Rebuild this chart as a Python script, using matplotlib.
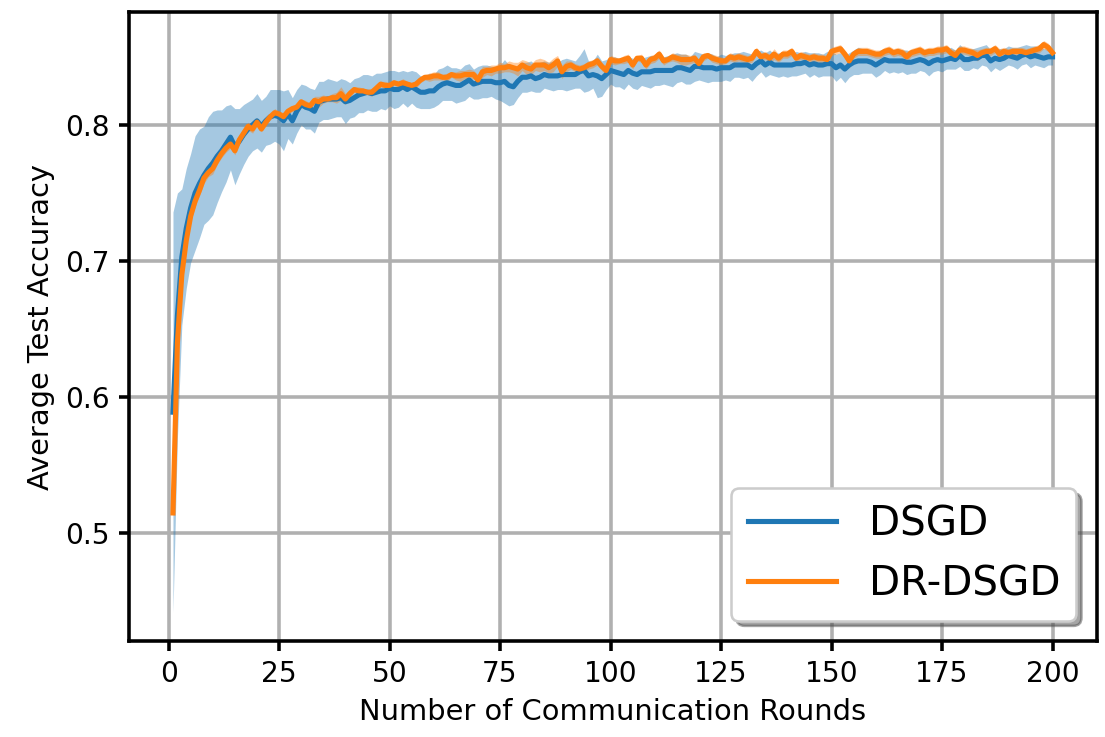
import numpy as np
import matplotlib
matplotlib.use("Agg")
import matplotlib.pyplot as plt

# communication rounds 1..200
rounds = np.arange(1, 201)

# DSGD average test accuracy (mean over workers) and its spread
dsgd_mean = [
    0.589, 0.660, 0.703, 0.724, 0.739, 0.750, 0.757, 0.763, 0.768, 0.772,
    0.777, 0.781, 0.786, 0.791, 0.784, 0.788, 0.793, 0.797, 0.800, 0.803,
    0.799, 0.803, 0.806, 0.807, 0.806, 0.803, 0.808, 0.803, 0.810, 0.815,
    0.813, 0.812, 0.810, 0.817, 0.818, 0.819, 0.819, 0.819, 0.820, 0.817,
    0.818, 0.820, 0.822, 0.823, 0.824, 0.823, 0.824, 0.825, 0.825, 0.827,
    0.826, 0.826, 0.828, 0.826, 0.828, 0.826, 0.824, 0.824, 0.825, 0.825,
    0.828, 0.830, 0.831, 0.830, 0.829, 0.829, 0.831, 0.833, 0.830, 0.831,
    0.832, 0.832, 0.832, 0.831, 0.831, 0.832, 0.829, 0.828, 0.832, 0.835,
    0.835, 0.836, 0.834, 0.835, 0.837, 0.836, 0.836, 0.836, 0.837, 0.837,
    0.837, 0.837, 0.839, 0.840, 0.836, 0.837, 0.836, 0.834, 0.837, 0.840,
    0.839, 0.838, 0.837, 0.840, 0.838, 0.837, 0.839, 0.839, 0.839, 0.840,
    0.840, 0.840, 0.840, 0.840, 0.842, 0.842, 0.841, 0.840, 0.843, 0.843,
    0.842, 0.842, 0.842, 0.841, 0.842, 0.842, 0.842, 0.844, 0.844, 0.844,
    0.844, 0.842, 0.845, 0.847, 0.844, 0.846, 0.844, 0.844, 0.844, 0.844,
    0.844, 0.845, 0.845, 0.846, 0.844, 0.845, 0.844, 0.844, 0.845, 0.845,
    0.842, 0.844, 0.841, 0.844, 0.846, 0.847, 0.847, 0.847, 0.846, 0.844,
    0.846, 0.848, 0.847, 0.847, 0.847, 0.847, 0.846, 0.846, 0.847, 0.848,
    0.847, 0.845, 0.847, 0.848, 0.847, 0.848, 0.849, 0.848, 0.851, 0.848,
    0.848, 0.849, 0.849, 0.851, 0.851, 0.847, 0.849, 0.848, 0.849, 0.851,
    0.850, 0.849, 0.851, 0.852, 0.850, 0.851, 0.850, 0.849, 0.850, 0.850,
]
dsgd_std = [
    0.147, 0.090, 0.050, 0.044, 0.040, 0.042, 0.040, 0.036, 0.038, 0.038,
    0.034, 0.030, 0.028, 0.024, 0.028, 0.024, 0.022, 0.020, 0.019, 0.020,
    0.019, 0.018, 0.020, 0.019, 0.020, 0.022, 0.018, 0.017, 0.016, 0.015,
    0.016, 0.015, 0.016, 0.015, 0.014, 0.015, 0.014, 0.013, 0.014, 0.016,
    0.013, 0.014, 0.013, 0.014, 0.013, 0.013, 0.014, 0.013, 0.014, 0.013,
    0.014, 0.013, 0.012, 0.013, 0.012, 0.013, 0.012, 0.012, 0.013, 0.012,
    0.013, 0.012, 0.013, 0.012, 0.013, 0.012, 0.013, 0.012, 0.011, 0.012,
    0.012, 0.012, 0.011, 0.012, 0.013, 0.016, 0.015, 0.013, 0.012, 0.011,
    0.011, 0.011, 0.010, 0.011, 0.010, 0.010, 0.011, 0.010, 0.011, 0.012,
    0.011, 0.010, 0.012, 0.016, 0.011, 0.010, 0.016, 0.013, 0.011, 0.010,
    0.011, 0.010, 0.011, 0.010, 0.011, 0.011, 0.010, 0.011, 0.012, 0.011,
    0.011, 0.010, 0.011, 0.012, 0.011, 0.010, 0.011, 0.010, 0.011, 0.010,
    0.010, 0.011, 0.010, 0.009, 0.010, 0.009, 0.010, 0.009, 0.009, 0.010,
    0.009, 0.010, 0.009, 0.008, 0.009, 0.009, 0.008, 0.009, 0.008, 0.009,
    0.008, 0.009, 0.008, 0.008, 0.009, 0.008, 0.009, 0.008, 0.009, 0.009,
    0.010, 0.009, 0.010, 0.009, 0.009, 0.010, 0.009, 0.009, 0.008, 0.009,
    0.009, 0.008, 0.009, 0.008, 0.009, 0.008, 0.009, 0.008, 0.009, 0.008,
    0.008, 0.009, 0.008, 0.008, 0.008, 0.007, 0.008, 0.007, 0.008, 0.008,
    0.008, 0.007, 0.008, 0.007, 0.008, 0.008, 0.007, 0.008, 0.007, 0.007,
    0.007, 0.008, 0.007, 0.007, 0.008, 0.007, 0.007, 0.007, 0.006, 0.006,
]

# DR-DSGD
drdsgd_mean = [
    0.515, 0.640, 0.690, 0.715, 0.733, 0.744, 0.752, 0.761, 0.765, 0.768,
    0.774, 0.779, 0.783, 0.786, 0.781, 0.789, 0.794, 0.799, 0.797, 0.802,
    0.797, 0.802, 0.806, 0.809, 0.808, 0.806, 0.810, 0.812, 0.813, 0.817,
    0.815, 0.814, 0.818, 0.817, 0.819, 0.819, 0.820, 0.820, 0.823, 0.819,
    0.823, 0.826, 0.825, 0.825, 0.824, 0.824, 0.827, 0.830, 0.829, 0.829,
    0.831, 0.830, 0.831, 0.830, 0.829, 0.830, 0.833, 0.835, 0.835, 0.836,
    0.836, 0.835, 0.835, 0.837, 0.836, 0.836, 0.837, 0.837, 0.837, 0.833,
    0.839, 0.840, 0.840, 0.841, 0.842, 0.842, 0.843, 0.842, 0.841, 0.844,
    0.842, 0.841, 0.844, 0.844, 0.844, 0.842, 0.844, 0.847, 0.839, 0.843,
    0.844, 0.842, 0.841, 0.842, 0.844, 0.845, 0.847, 0.843, 0.840, 0.848,
    0.847, 0.847, 0.848, 0.849, 0.844, 0.849, 0.849, 0.844, 0.848, 0.849,
    0.852, 0.847, 0.848, 0.850, 0.849, 0.848, 0.848, 0.848, 0.849, 0.845,
    0.850, 0.851, 0.849, 0.848, 0.847, 0.847, 0.850, 0.849, 0.850, 0.849,
    0.848, 0.849, 0.854, 0.850, 0.851, 0.849, 0.852, 0.849, 0.852, 0.852,
    0.854, 0.849, 0.851, 0.850, 0.849, 0.850, 0.849, 0.849, 0.848, 0.854,
    0.855, 0.856, 0.852, 0.847, 0.852, 0.854, 0.854, 0.854, 0.853, 0.852,
    0.852, 0.854, 0.855, 0.853, 0.854, 0.853, 0.850, 0.853, 0.854, 0.855,
    0.853, 0.854, 0.854, 0.855, 0.855, 0.856, 0.853, 0.851, 0.855, 0.855,
    0.854, 0.853, 0.851, 0.853, 0.854, 0.854, 0.856, 0.852, 0.854, 0.853,
    0.854, 0.854, 0.854, 0.853, 0.854, 0.855, 0.856, 0.859, 0.857, 0.853,
]
drdsgd_std = [
    0.004, 0.006, 0.005, 0.005, 0.004, 0.004, 0.004, 0.004, 0.003, 0.004,
    0.003, 0.003, 0.003, 0.003, 0.003, 0.003, 0.003, 0.003, 0.003, 0.003,
    0.002, 0.003, 0.002, 0.003, 0.002, 0.003, 0.002, 0.002, 0.003, 0.002,
    0.003, 0.002, 0.003, 0.004, 0.003, 0.002, 0.003, 0.004, 0.005, 0.004,
    0.003, 0.002, 0.003, 0.002, 0.002, 0.003, 0.002, 0.002, 0.003, 0.002,
    0.002, 0.002, 0.003, 0.002, 0.002, 0.003, 0.002, 0.002, 0.003, 0.003,
    0.003, 0.002, 0.003, 0.002, 0.003, 0.004, 0.003, 0.004, 0.003, 0.004,
    0.004, 0.003, 0.004, 0.003, 0.004, 0.003, 0.004, 0.004, 0.005, 0.004,
    0.005, 0.004, 0.004, 0.005, 0.004, 0.004, 0.005, 0.004, 0.005, 0.004,
    0.003, 0.003, 0.003, 0.003, 0.003, 0.003, 0.003, 0.003, 0.003, 0.003,
    0.003, 0.002, 0.003, 0.003, 0.003, 0.002, 0.003, 0.003, 0.003, 0.003,
    0.003, 0.003, 0.002, 0.003, 0.003, 0.004, 0.004, 0.003, 0.003, 0.003,
    0.003, 0.002, 0.003, 0.003, 0.003, 0.002, 0.003, 0.003, 0.003, 0.003,
    0.003, 0.003, 0.003, 0.003, 0.003, 0.003, 0.004, 0.003, 0.003, 0.003,
    0.003, 0.003, 0.003, 0.003, 0.003, 0.003, 0.003, 0.003, 0.003, 0.003,
    0.003, 0.003, 0.003, 0.004, 0.003, 0.003, 0.003, 0.003, 0.003, 0.003,
    0.003, 0.003, 0.003, 0.003, 0.003, 0.003, 0.004, 0.003, 0.003, 0.003,
    0.003, 0.003, 0.003, 0.003, 0.003, 0.003, 0.003, 0.004, 0.003, 0.003,
    0.003, 0.003, 0.004, 0.003, 0.003, 0.003, 0.003, 0.004, 0.003, 0.003,
    0.003, 0.003, 0.003, 0.003, 0.003, 0.003, 0.003, 0.003, 0.003, 0.003,
]

dsgd_mean = np.array(dsgd_mean)
dsgd_std = np.array(dsgd_std)
drdsgd_mean = np.array(drdsgd_mean)
drdsgd_std = np.array(drdsgd_std)

plt.rcParams.update({
    'axes.linewidth': 1.4,
    'xtick.major.width': 1.4,
    'ytick.major.width': 1.4,
    'xtick.major.size': 4.0,
    'ytick.major.size': 4.0,
    'xtick.labelsize': 11,
    'ytick.labelsize': 11,
    'axes.labelsize': 11.3,
})

fig, ax = plt.subplots(figsize=(6.008, 4.006), dpi=184)
fig.subplots_adjust(left=0.1167, right=0.9919, bottom=0.1303, top=0.9837)

c1 = '#1f77b4'
c2 = '#ff7f0e'
ax.fill_between(rounds, dsgd_mean - dsgd_std, dsgd_mean + dsgd_std,
                color=c1, alpha=0.4, linewidth=0)
ax.plot(rounds, dsgd_mean, color=c1, lw=2.0, label='DSGD')
ax.fill_between(rounds, drdsgd_mean - drdsgd_std, drdsgd_mean + drdsgd_std,
                color=c2, alpha=0.4, linewidth=0)
ax.plot(rounds, drdsgd_mean, color=c2, lw=2.0, label='DR-DSGD')

ax.set_xlabel('Number of Communication Rounds')
ax.set_ylabel('Average Test Accuracy')
ax.set_xticks([0, 25, 50, 75, 100, 125, 150, 175, 200])
ax.set_yticks([0.5, 0.6, 0.7, 0.8])
ax.grid(True, color='#b0b0b0', linewidth=1.4)
ax.set_axisbelow(True)

ax.legend(loc='lower right', fontsize=15.8, shadow=True, framealpha=1,
          handlelength=2.2, labelspacing=0.5)

plt.savefig('out.png', dpi=184)
